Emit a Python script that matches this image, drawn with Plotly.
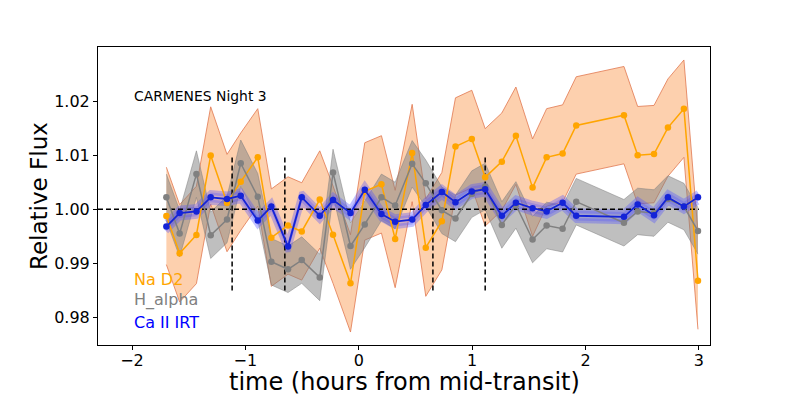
import plotly.graph_objects as go

# ---- data ----
time = [-1.697, -1.580, -1.432, -1.306, -1.162, -1.041, -0.891, -0.771, -0.624, -0.503,
        -0.344, -0.227, -0.073, 0.053, 0.200, 0.321, 0.471, 0.591, 0.733, 0.853,
        0.997, 1.115, 1.262, 1.386, 1.533, 1.657, 1.798, 1.918, 2.339, 2.460,
        2.604, 2.727, 2.868, 2.992]

na_d2 = [0.99877, 0.99185, 0.99525, 1.00994, 1.00115, 1.0051, 1.0096, 0.99475, 0.9970, 0.9959,
         1.0018, 0.9953, 0.9863, 1.0033, 1.0046, 0.9945, 1.0104, 0.9929, 0.9978, 1.0116,
         1.0130, 1.0059, 1.0088, 1.0136, 1.0040, 1.0096, 1.0103, 1.0155, 1.0174, 1.0100,
         1.0102, 1.0151, 1.0186, 0.9868]
na_d2_err = [0.0090] * len(time)

h_alpha = [1.0022, 0.9955, 1.0065, 0.9952, 0.9981, 1.0085, 1.0023, 0.9903, 0.9889, 0.9906,
           0.9874, 1.0068, 0.9932, 0.9972, 1.0022, 1.0007, 1.0084, 1.0048, 0.9998, 0.9983,
           1.0028, 1.0042, 0.9971, 1.0008, 0.9944, 0.9970, 0.9964, 1.0014, 0.9975, 0.9996,
           0.9993, 1.0019, 1.0005, 0.9960]
h_alpha_err = [0.0043] * len(time)

ca_irt = [0.9968, 0.9993, 0.9996, 1.0022, 1.0019, 1.0025, 0.9979, 1.0005, 0.9931, 1.0022,
          0.9988, 1.0017, 0.9993, 1.0036, 0.9991, 0.9977, 0.9981, 1.0008, 1.0032, 1.0013,
          1.0033, 1.0037, 0.9988, 1.0012, 1.0002, 0.9996, 1.0012, 0.9988, 0.9986, 1.0009,
          0.9989, 1.0022, 1.0005, 1.0022]
ca_irt_err = [0.0009] * len(time)

contacts = [-1.117, -0.652, 0.654, 1.115]
contact_ymin, contact_ymax = 0.985, 1.01
baseline = 1.0
baseline_xmax = 3.0
xrange_ = [-2.30, 3.098]
yrange_ = [0.9749, 1.0300]
yticks = [0.98, 0.99, 1.00, 1.01, 1.02]
xticks = [-2, -1, 0, 1, 2, 3]

FONT = "DejaVu Sans"
fig = go.Figure()


def band(vals, errs, fill, edge, ew):
    up = [v + e for v, e in zip(vals, errs)]
    lo = [v - e for v, e in zip(vals, errs)]
    fig.add_trace(go.Scatter(x=time, y=up, mode="lines", line=dict(color=edge, width=ew),
                             showlegend=False, hoverinfo="skip"))
    fig.add_trace(go.Scatter(x=time, y=lo, mode="lines", line=dict(color=edge, width=ew),
                             fill="tonexty", fillcolor=fill, showlegend=False, hoverinfo="skip"))


band(na_d2, na_d2_err, "rgba(252,165,100,0.52)", "rgba(225,120,80,0.8)", 1)
band(h_alpha, h_alpha_err, "rgba(128,128,128,0.5)", "rgba(128,128,128,0.5)", 1)
band(ca_irt, ca_irt_err, "rgba(60,60,255,0.25)", "rgba(80,80,255,0.35)", 5)

# reference lines
for c in contacts:
    fig.add_trace(go.Scatter(x=[c, c], y=[contact_ymin, contact_ymax], mode="lines",
                             line=dict(color="black", width=1.5, dash="5px,3px"),
                             showlegend=False, hoverinfo="skip"))
fig.add_trace(go.Scatter(x=[xrange_[0], baseline_xmax], y=[baseline, baseline], mode="lines",
                         line=dict(color="black", width=1.5, dash="5px,3px"),
                         showlegend=False, hoverinfo="skip"))

fig.add_trace(go.Scatter(x=time, y=na_d2, mode="lines+markers",
                         line=dict(color="orange", width=1.5),
                         marker=dict(color="orange", size=6.5), showlegend=False))
fig.add_trace(go.Scatter(x=time, y=h_alpha, mode="lines+markers",
                         line=dict(color="gray", width=1.5),
                         marker=dict(color="gray", size=6.5), showlegend=False))
fig.add_trace(go.Scatter(x=time, y=ca_irt, mode="lines+markers",
                         line=dict(color="rgb(20,35,215)", width=1.8),
                         marker=dict(color="rgb(20,35,215)", size=6.5), showlegend=False))

labels = [("CARMENES Night 3", 1.0210, "black", 13.9),
          ("Na D2", 0.9871, "orange", 16),
          ("H_alpha", 0.9832, "gray", 16),
          ("Ca II IRT", 0.97913, "blue", 16)]
for txt, yv, col, fs in labels:
    fig.add_annotation(x=-2.0, y=yv, text=txt, showarrow=False, xanchor="left",
                       yanchor="middle", font=dict(family=FONT, size=fs, color=col))

# axis titles as paper annotations
fig.add_annotation(xref="paper", yref="paper", x=0.5, y=-0.124, text="time (hours from mid-transit)",
                   showarrow=False, xanchor="center", yanchor="middle",
                   font=dict(family=FONT, size=24, color="black"))
fig.add_annotation(xref="paper", yref="paper", x=-0.0964, y=0.5, text="Relative Flux",
                   showarrow=False, xanchor="center", yanchor="middle", textangle=-90,
                   font=dict(family=FONT, size=23, color="black"))

axis_common = dict(showline=True, linecolor="black", linewidth=1, mirror=True,
                   ticks="outside", ticklen=4, tickcolor="black", showgrid=False,
                   zeroline=False, automargin=False,
                   tickfont=dict(family=FONT, size=16, color="black"))
fig.update_xaxes(range=xrange_, tickvals=xticks, ticklabelstandoff=-3, **axis_common)
fig.update_yaxes(range=yrange_, tickvals=yticks, tickformat=".2f", **axis_common)

# the page body keeps an 8px default margin, so the figure is 8px smaller and offsets shifted
fig.update_layout(width=781, height=387, margin=dict(l=90, r=79, t=39, b=50),
                  plot_bgcolor="white", paper_bgcolor="white", showlegend=False)

fig.write_html("out.html")
